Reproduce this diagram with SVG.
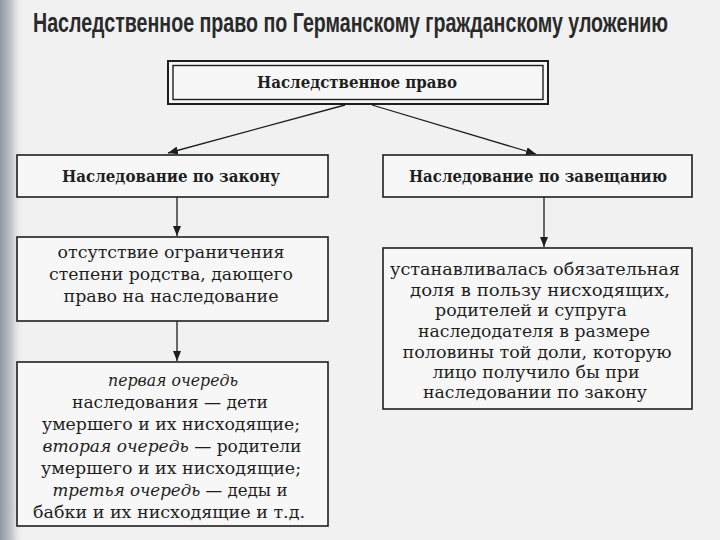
<svg xmlns="http://www.w3.org/2000/svg" width="720" height="540" viewBox="0 0 720 540">
<defs>
<linearGradient id="edge" x1="0" y1="0" x2="1" y2="0">
<stop offset="0" stop-color="#8f96a2"/>
<stop offset="0.5" stop-color="#c4c8ce"/>
<stop offset="1" stop-color="#f1f1f1" stop-opacity="0"/>
</linearGradient>
<marker id="ah" viewBox="0 0 10 8" refX="10" refY="4" markerWidth="10" markerHeight="8" markerUnits="userSpaceOnUse" orient="auto">
<path d="M0,0 L10,4 L0,8 Z" fill="#1e1e1e"/>
</marker>
<style>
.box{fill:#f7f7f7;stroke:#1e1e1e;stroke-width:1.6}
.hd{font-family:"DejaVu Serif","Liberation Serif",serif;font-weight:bold;font-size:16px;fill:#1e1e1e;text-anchor:middle}
.tx{font-family:"DejaVu Serif","Liberation Serif",serif;font-size:16.5px;fill:#1e1e1e;text-anchor:middle}
.it{font-style:italic}
.ln{stroke:#1e1e1e;stroke-width:1.3;fill:none}
</style>
</defs>
<rect x="0" y="0" width="720" height="540" fill="#f1f1f1"/>
<rect x="0" y="0" width="24" height="540" fill="url(#edge)"/>
<text transform="translate(33,32) scale(0.72,1)" x="0" y="0" font-family="'Liberation Sans',Arial,sans-serif" font-weight="bold" font-size="27" fill="#2a2a2a" textLength="882" lengthAdjust="spacingAndGlyphs">Наследственное право по Германскому гражданскому уложению</text>

<g id="connectors">
<line class="ln" x1="345" y1="105" x2="168" y2="153" marker-end="url(#ah)"/>
<line class="ln" x1="372" y1="105" x2="536" y2="154" marker-end="url(#ah)"/>
<line class="ln" x1="177" y1="197" x2="177" y2="236" marker-end="url(#ah)"/>
<line class="ln" x1="177" y1="321" x2="177" y2="361" marker-end="url(#ah)"/>
<line class="ln" x1="544" y1="197" x2="544" y2="247" marker-end="url(#ah)"/>
</g>

<g id="root">
<rect x="168" y="61" width="380" height="43" fill="#f7f7f7" stroke="#1e1e1e" stroke-width="2"/>
<rect x="173" y="65.5" width="370" height="34" fill="none" stroke="#1e1e1e" stroke-width="1.4"/>
<text class="hd" x="357" y="88" textLength="200" lengthAdjust="spacingAndGlyphs">Наследственное право</text>
</g>

<g id="law">
<rect class="box" x="17" y="155" width="311" height="42"/>
<text class="hd" x="171" y="182" textLength="218" lengthAdjust="spacingAndGlyphs">Наследование по закону</text>
</g>

<g id="will">
<rect class="box" x="383" y="155" width="309" height="42"/>
<text class="hd" x="538" y="182" textLength="258" lengthAdjust="spacingAndGlyphs">Наследование по завещанию</text>
</g>

<g id="law-degree">
<rect class="box" x="17" y="237" width="311" height="84"/>
<text class="tx" x="171" y="258" textLength="227" lengthAdjust="spacingAndGlyphs">отсутствие ограничения</text>
<text class="tx" x="171" y="280" textLength="244" lengthAdjust="spacingAndGlyphs">степени родства, дающего</text>
<text class="tx" x="171" y="302" textLength="215" lengthAdjust="spacingAndGlyphs">право на наследование</text>
</g>

<g id="law-order">
<rect class="box" x="17" y="362" width="311" height="164"/>
<text class="tx it" x="173" y="386" textLength="130" lengthAdjust="spacingAndGlyphs">первая очередь</text>
<text class="tx" x="170" y="408" textLength="196" lengthAdjust="spacingAndGlyphs">наследования — дети</text>
<text class="tx" x="171" y="430" textLength="258" lengthAdjust="spacingAndGlyphs">умершего и их нисходящие;</text>
<text class="tx" x="172" y="452" textLength="259" lengthAdjust="spacingAndGlyphs"><tspan class="it">вторая очередь</tspan> — родители</text>
<text class="tx" x="171" y="474" textLength="260" lengthAdjust="spacingAndGlyphs">умершего и их нисходящие;</text>
<text class="tx" x="170" y="496" textLength="235" lengthAdjust="spacingAndGlyphs"><tspan class="it">третья очередь</tspan> — деды и</text>
<text class="tx" x="169" y="518" textLength="272" lengthAdjust="spacingAndGlyphs">бабки и их нисходящие и т.д.</text>
</g>

<g id="will-share">
<rect class="box" x="383" y="248" width="309" height="161"/>
<text class="tx" x="535" y="275" textLength="290" lengthAdjust="spacingAndGlyphs">устанавливалась обязательная</text>
<text class="tx" x="540" y="296" textLength="260" lengthAdjust="spacingAndGlyphs">доля в пользу нисходящих,</text>
<text class="tx" x="531" y="316" textLength="192" lengthAdjust="spacingAndGlyphs">родителей и супруга</text>
<text class="tx" x="534" y="337" textLength="232" lengthAdjust="spacingAndGlyphs">наследодателя в размере</text>
<text class="tx" x="537" y="358" textLength="269" lengthAdjust="spacingAndGlyphs">половины той доли, которую</text>
<text class="tx" x="536" y="378" textLength="207" lengthAdjust="spacingAndGlyphs">лицо получило бы при</text>
<text class="tx" x="535" y="398" textLength="224" lengthAdjust="spacingAndGlyphs">наследовании по закону</text>
</g>
</svg>
